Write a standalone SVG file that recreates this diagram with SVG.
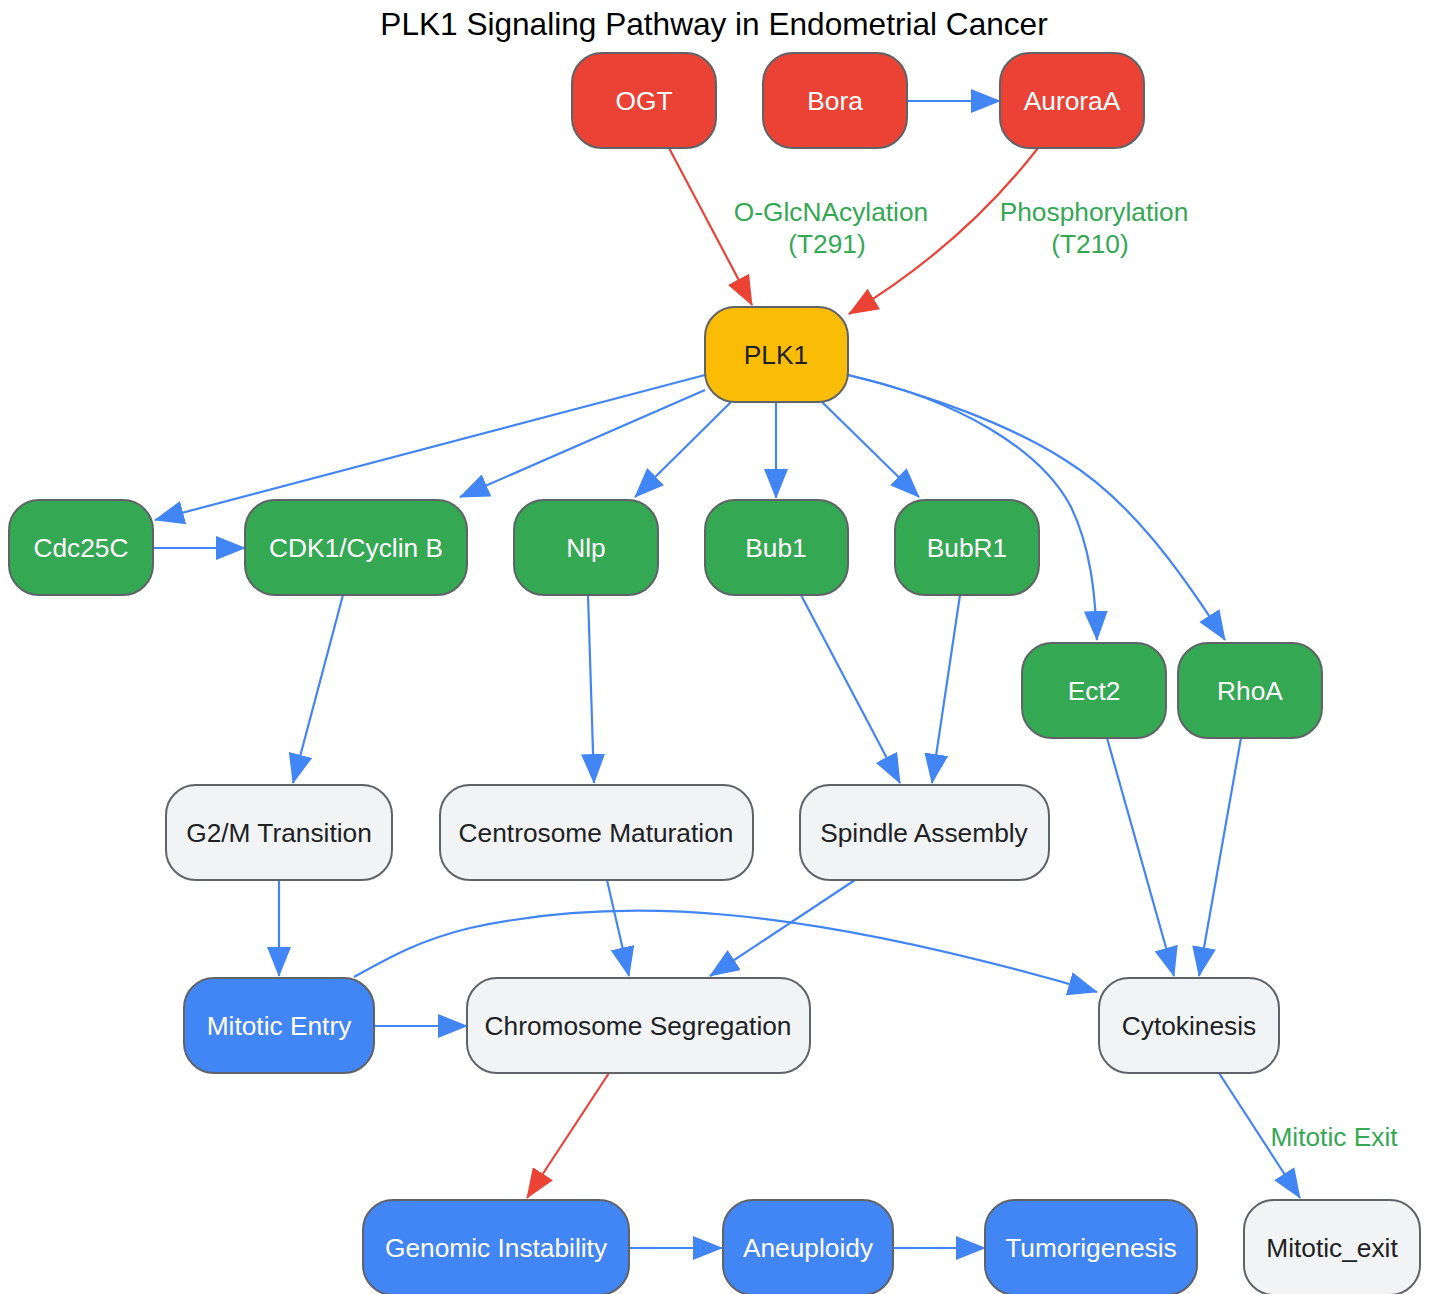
<svg xmlns="http://www.w3.org/2000/svg" width="1430" height="1294" viewBox="0 0 1430 1294">
<style>
.n rect{stroke:#5f6368;stroke-width:2}
.red rect{fill:#EA4335}.grn rect{fill:#34A853}.blu rect{fill:#4285F4}.yel rect{fill:#FBBC05}.gry rect{fill:#F1F3F4}
text{font-family:"Liberation Sans",Arial,sans-serif;font-size:26.3px;text-anchor:middle;dominant-baseline:central}
.red text,.grn text,.blu text{fill:#ffffff}
.yel text,.gry text{fill:#202124}
.e path{fill:none;stroke-width:2.2}
.b{stroke:#4285F4;marker-end:url(#ab)}
.r{stroke:#EA4335;marker-end:url(#ar)}
.lbl{fill:#34A853}
.title{fill:#000;font-size:31.6px}
</style>
<defs>
<marker id="ab" markerUnits="userSpaceOnUse" markerWidth="30" markerHeight="24" viewBox="0 0 30 24" refX="29" refY="12" orient="auto"><path d="M0,0 L30,12 L0,24 z" fill="#4285F4"/></marker>
<marker id="ar" markerUnits="userSpaceOnUse" markerWidth="30" markerHeight="24" viewBox="0 0 30 24" refX="29" refY="12" orient="auto"><path d="M0,0 L30,12 L0,24 z" fill="#EA4335"/></marker>
</defs>
<rect width="1430" height="1294" fill="#ffffff"/>
<text class="title" x="714" y="24">PLK1 Signaling Pathway in Endometrial Cancer</text>
<g class="e" id="connectors">
<path class="r" d="M669,148 L752,305"/>
<path class="b" d="M907,101 L1000,101"/>
<path class="r" d="M1038,148 C990,210 930,265 849,314"/>
<path class="b" d="M705,375 L155,520"/>
<path class="b" d="M705,390 L460,497"/>
<path class="b" d="M731,402 L635,497"/>
<path class="b" d="M776,402 L776,498"/>
<path class="b" d="M822,402 L919,497"/>
<path class="b" d="M848,375 C960,400 1040,450 1070,505 C1090,545 1095,590 1097,640"/>
<path class="b" d="M848,375 C930,395 1010,425 1065,460 C1130,500 1180,570 1225,640"/>
<path class="b" d="M153,548 L245,548"/>
<path class="b" d="M343,595 L293,783"/>
<path class="b" d="M588,595 L594,783"/>
<path class="b" d="M801,595 L900,783"/>
<path class="b" d="M960,595 L932,783"/>
<path class="b" d="M1107,738 L1174,976"/>
<path class="b" d="M1241,738 L1199,976"/>
<path class="b" d="M279,880 L279,976"/>
<path class="b" d="M607,880 L629,976"/>
<path class="b" d="M855,880 L710,976"/>
<path class="b" d="M354,977 C390,957 420,940 470,928 C620,895 800,905 1097,992"/>
<path class="b" d="M374,1026 L467,1026"/>
<path class="r" d="M609,1073 L527,1198"/>
<path class="b" d="M1219,1073 L1300,1198"/>
<path class="b" d="M629,1248 L722,1248"/>
<path class="b" d="M893,1248 L985,1248"/>
<text class="lbl" x="831" y="212">O-GlcNAcylation</text>
<text class="lbl" x="827" y="244">(T291)</text>
<text class="lbl" x="1094" y="212">Phosphorylation</text>
<text class="lbl" x="1090" y="244">(T210)</text>
<text class="lbl" x="1334" y="1137">Mitotic Exit</text>
</g>
<g id="OGT" class="n red"><rect x="572" y="53" width="144" height="95" rx="30"/><text x="644" y="101">OGT</text></g>
<g id="Bora" class="n red"><rect x="763" y="53" width="144" height="95" rx="30"/><text x="835" y="101">Bora</text></g>
<g id="AuroraA" class="n red"><rect x="1000" y="53" width="144" height="95" rx="30"/><text x="1072" y="101">AuroraA</text></g>
<g id="PLK1" class="n yel"><rect x="705" y="307" width="143" height="95" rx="30"/><text x="776" y="355">PLK1</text></g>
<g id="Cdc25C" class="n grn"><rect x="9" y="500" width="144" height="95" rx="30"/><text x="81" y="548">Cdc25C</text></g>
<g id="CDK1" class="n grn"><rect x="245" y="500" width="222" height="95" rx="30"/><text x="356" y="548">CDK1/Cyclin B</text></g>
<g id="Nlp" class="n grn"><rect x="514" y="500" width="144" height="95" rx="30"/><text x="586" y="548">Nlp</text></g>
<g id="Bub1" class="n grn"><rect x="705" y="500" width="143" height="95" rx="30"/><text x="776" y="548">Bub1</text></g>
<g id="BubR1" class="n grn"><rect x="895" y="500" width="144" height="95" rx="30"/><text x="967" y="548">BubR1</text></g>
<g id="Ect2" class="n grn"><rect x="1022" y="643" width="144" height="95" rx="30"/><text x="1094" y="691">Ect2</text></g>
<g id="RhoA" class="n grn"><rect x="1178" y="643" width="144" height="95" rx="30"/><text x="1250" y="691">RhoA</text></g>
<g id="G2M" class="n gry"><rect x="166" y="785" width="226" height="95" rx="30"/><text x="279" y="833">G2/M Transition</text></g>
<g id="Centrosome" class="n gry"><rect x="440" y="785" width="313" height="95" rx="30"/><text x="596" y="833">Centrosome Maturation</text></g>
<g id="Spindle" class="n gry"><rect x="800" y="785" width="249" height="95" rx="30"/><text x="924" y="833">Spindle Assembly</text></g>
<g id="MitoticEntry" class="n blu"><rect x="184" y="978" width="190" height="95" rx="30"/><text x="279" y="1026">Mitotic Entry</text></g>
<g id="ChromSeg" class="n gry"><rect x="467" y="978" width="343" height="95" rx="30"/><text x="638" y="1026">Chromosome Segregation</text></g>
<g id="Cytokinesis" class="n gry"><rect x="1099" y="978" width="180" height="95" rx="30"/><text x="1189" y="1026">Cytokinesis</text></g>
<g id="Genomic" class="n blu"><rect x="363" y="1200" width="266" height="95" rx="30"/><text x="496" y="1248">Genomic Instability</text></g>
<g id="Aneuploidy" class="n blu"><rect x="723" y="1200" width="170" height="95" rx="30"/><text x="808" y="1248">Aneuploidy</text></g>
<g id="Tumorigenesis" class="n blu"><rect x="985" y="1200" width="212" height="95" rx="30"/><text x="1091" y="1248">Tumorigenesis</text></g>
<g id="MitoticExit" class="n gry"><rect x="1244" y="1200" width="176" height="95" rx="30"/><text x="1332" y="1248">Mitotic_exit</text></g>
</svg>
